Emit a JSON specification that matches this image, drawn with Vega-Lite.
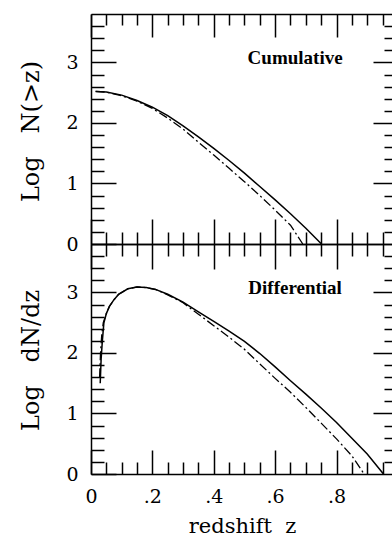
{
  "$schema": "https://vega.github.io/schema/vega-lite/v6.json",
  "padding": {"left": 18, "top": 13, "right": 0, "bottom": 0},
  "background": "white",
  "datasets": {
    "curves": [
      {"panel": "cum", "model": "solid", "z": 0.015, "v": 2.52},
      {"panel": "cum", "model": "solid", "z": 0.05, "v": 2.51},
      {"panel": "cum", "model": "solid", "z": 0.1, "v": 2.46},
      {"panel": "cum", "model": "solid", "z": 0.15, "v": 2.37},
      {"panel": "cum", "model": "solid", "z": 0.2, "v": 2.26},
      {"panel": "cum", "model": "solid", "z": 0.25, "v": 2.12},
      {"panel": "cum", "model": "solid", "z": 0.3, "v": 1.95},
      {"panel": "cum", "model": "solid", "z": 0.35, "v": 1.77},
      {"panel": "cum", "model": "solid", "z": 0.4, "v": 1.58},
      {"panel": "cum", "model": "solid", "z": 0.45, "v": 1.38},
      {"panel": "cum", "model": "solid", "z": 0.5, "v": 1.17},
      {"panel": "cum", "model": "solid", "z": 0.55, "v": 0.95},
      {"panel": "cum", "model": "solid", "z": 0.6, "v": 0.73},
      {"panel": "cum", "model": "solid", "z": 0.65, "v": 0.5},
      {"panel": "cum", "model": "solid", "z": 0.7, "v": 0.26},
      {"panel": "cum", "model": "solid", "z": 0.751, "v": 0.0},
      {"panel": "cum", "model": "dash", "z": 0.015, "v": 2.52},
      {"panel": "cum", "model": "dash", "z": 0.05, "v": 2.51},
      {"panel": "cum", "model": "dash", "z": 0.1, "v": 2.45},
      {"panel": "cum", "model": "dash", "z": 0.15, "v": 2.36},
      {"panel": "cum", "model": "dash", "z": 0.2, "v": 2.24},
      {"panel": "cum", "model": "dash", "z": 0.25, "v": 2.08},
      {"panel": "cum", "model": "dash", "z": 0.3, "v": 1.9},
      {"panel": "cum", "model": "dash", "z": 0.35, "v": 1.68},
      {"panel": "cum", "model": "dash", "z": 0.4, "v": 1.47},
      {"panel": "cum", "model": "dash", "z": 0.45, "v": 1.25},
      {"panel": "cum", "model": "dash", "z": 0.5, "v": 1.03},
      {"panel": "cum", "model": "dash", "z": 0.55, "v": 0.8},
      {"panel": "cum", "model": "dash", "z": 0.6, "v": 0.56},
      {"panel": "cum", "model": "dash", "z": 0.65, "v": 0.31},
      {"panel": "cum", "model": "dash", "z": 0.69, "v": 0.0},
      {"panel": "diff", "model": "solid", "z": 0.03, "v": 1.5},
      {"panel": "diff", "model": "solid", "z": 0.033, "v": 1.9},
      {"panel": "diff", "model": "solid", "z": 0.037, "v": 2.2},
      {"panel": "diff", "model": "solid", "z": 0.042, "v": 2.5},
      {"panel": "diff", "model": "solid", "z": 0.05, "v": 2.65},
      {"panel": "diff", "model": "solid", "z": 0.06, "v": 2.77},
      {"panel": "diff", "model": "solid", "z": 0.075, "v": 2.88},
      {"panel": "diff", "model": "solid", "z": 0.09, "v": 2.97},
      {"panel": "diff", "model": "solid", "z": 0.12, "v": 3.06},
      {"panel": "diff", "model": "solid", "z": 0.15, "v": 3.09},
      {"panel": "diff", "model": "solid", "z": 0.18, "v": 3.08},
      {"panel": "diff", "model": "solid", "z": 0.21, "v": 3.05},
      {"panel": "diff", "model": "solid", "z": 0.25, "v": 2.97},
      {"panel": "diff", "model": "solid", "z": 0.3, "v": 2.84},
      {"panel": "diff", "model": "solid", "z": 0.35, "v": 2.68},
      {"panel": "diff", "model": "solid", "z": 0.4, "v": 2.52},
      {"panel": "diff", "model": "solid", "z": 0.45, "v": 2.36},
      {"panel": "diff", "model": "solid", "z": 0.5, "v": 2.19},
      {"panel": "diff", "model": "solid", "z": 0.55, "v": 1.99},
      {"panel": "diff", "model": "solid", "z": 0.6, "v": 1.77},
      {"panel": "diff", "model": "solid", "z": 0.65, "v": 1.54},
      {"panel": "diff", "model": "solid", "z": 0.7, "v": 1.32},
      {"panel": "diff", "model": "solid", "z": 0.75, "v": 1.09},
      {"panel": "diff", "model": "solid", "z": 0.8, "v": 0.85},
      {"panel": "diff", "model": "solid", "z": 0.85, "v": 0.59},
      {"panel": "diff", "model": "solid", "z": 0.9, "v": 0.33},
      {"panel": "diff", "model": "solid", "z": 0.953, "v": 0.0},
      {"panel": "diff", "model": "dash", "z": 0.028, "v": 1.6},
      {"panel": "diff", "model": "dash", "z": 0.031, "v": 2.0},
      {"panel": "diff", "model": "dash", "z": 0.035, "v": 2.3},
      {"panel": "diff", "model": "dash", "z": 0.04, "v": 2.5},
      {"panel": "diff", "model": "dash", "z": 0.05, "v": 2.65},
      {"panel": "diff", "model": "dash", "z": 0.06, "v": 2.77},
      {"panel": "diff", "model": "dash", "z": 0.075, "v": 2.88},
      {"panel": "diff", "model": "dash", "z": 0.09, "v": 2.97},
      {"panel": "diff", "model": "dash", "z": 0.12, "v": 3.06},
      {"panel": "diff", "model": "dash", "z": 0.15, "v": 3.09},
      {"panel": "diff", "model": "dash", "z": 0.18, "v": 3.08},
      {"panel": "diff", "model": "dash", "z": 0.21, "v": 3.05},
      {"panel": "diff", "model": "dash", "z": 0.25, "v": 2.96},
      {"panel": "diff", "model": "dash", "z": 0.3, "v": 2.83},
      {"panel": "diff", "model": "dash", "z": 0.35, "v": 2.64},
      {"panel": "diff", "model": "dash", "z": 0.4, "v": 2.45},
      {"panel": "diff", "model": "dash", "z": 0.45, "v": 2.26},
      {"panel": "diff", "model": "dash", "z": 0.5, "v": 2.06},
      {"panel": "diff", "model": "dash", "z": 0.55, "v": 1.82},
      {"panel": "diff", "model": "dash", "z": 0.6, "v": 1.58},
      {"panel": "diff", "model": "dash", "z": 0.65, "v": 1.35},
      {"panel": "diff", "model": "dash", "z": 0.7, "v": 1.1},
      {"panel": "diff", "model": "dash", "z": 0.75, "v": 0.84},
      {"panel": "diff", "model": "dash", "z": 0.8, "v": 0.58},
      {"panel": "diff", "model": "dash", "z": 0.85, "v": 0.3},
      {"panel": "diff", "model": "dash", "z": 0.89, "v": 0.0}
    ],
    "notes": [
      {"panel": "cum", "z": 0.665, "v": 2.97, "text": "Cumulative"},
      {"panel": "diff", "z": 0.665, "v": 2.97, "text": "Differential"}
    ]
  },
  "vconcat": [
    {
      "width": 302,
      "height": 230,
      "resolve": {"axis": {"x": "independent", "y": "independent"}},
      "layer": [
        {
          "data": {"name": "curves"},
          "transform": [{"filter": "datum.panel === 'cum' && datum.model === 'solid'"}],
          "mark": {"type": "line", "color": "black", "strokeWidth": 1.5},
          "encoding": {
            "x": {"field": "z", "type": "quantitative", "scale": {"domain": [0, 0.984], "nice": false, "zero": false},
              "axis": {"orient": "bottom", "title": null, "labels": false,
                "values": [0,0.05,0.1,0.15,0.2,0.25,0.3,0.35,0.4,0.45,0.5,0.55,0.6,0.65,0.7,0.75,0.8,0.85,0.9,0.95],
                "tickSize": {"condition": {"test": "abs(datum.value*5 - round(datum.value*5)) < 0.001", "value": -25}, "value": -12}}},
            "y": {"field": "v", "type": "quantitative", "scale": {"domain": [0, 3.8], "nice": false, "zero": false},
              "axis": {"orient": "left", "title": "Log\u00a0\u00a0\u00a0N(>z)", "titleX": -48, "titleY": 117, "titleBaseline": "bottom", "titleAngle": -90,
                "values": [0,0.2,0.4,0.6,0.8,1,1.2,1.4,1.6,1.8,2,2.2,2.4,2.6,2.8,3,3.2,3.4,3.6],
                "labelExpr": "datum.value % 1 === 0 ? format(datum.value, 'd') : ''",
                "labelPadding": 38,
                "tickSize": {"condition": {"test": "datum.value % 1 === 0", "value": -25}, "value": -13}}}
          }
        },
        {
          "data": {"name": "curves"},
          "transform": [{"filter": "datum.panel === 'cum' && datum.model === 'dash'"}],
          "mark": {"type": "line", "color": "black", "strokeWidth": 1.3, "strokeDash": [9, 3, 2, 3]},
          "encoding": {
            "x": {"field": "z", "type": "quantitative", "scale": {"domain": [0, 0.984], "nice": false, "zero": false},
              "axis": {"orient": "top", "title": null, "labels": false,
                "values": [0,0.05,0.1,0.15,0.2,0.25,0.3,0.35,0.4,0.45,0.5,0.55,0.6,0.65,0.7,0.75,0.8,0.85,0.9,0.95],
                "tickSize": {"condition": {"test": "abs(datum.value*5 - round(datum.value*5)) < 0.001", "value": -23}, "value": -11}}},
            "y": {"field": "v", "type": "quantitative", "scale": {"domain": [0, 3.8], "nice": false, "zero": false},
              "axis": {"orient": "right", "title": null, "labels": false, "domain": false,
                "values": [0.2,0.4,0.6,0.8,1,1.2,1.4,1.6,1.8,2,2.2,2.4,2.6,2.8,3,3.2,3.4,3.6],
                "tickSize": {"condition": {"test": "datum.value % 1 === 0", "value": -20}, "value": -9}}}
          }
        },
        {
          "data": {"name": "notes"},
          "transform": [{"filter": "datum.panel === 'cum'"}],
          "mark": {"type": "text", "font": "Liberation Serif", "fontWeight": "bold", "fontSize": 19, "align": "center", "baseline": "alphabetic", "color": "black"},
          "encoding": {
            "x": {"field": "z", "type": "quantitative", "scale": {"domain": [0, 0.984], "nice": false, "zero": false}, "axis": null},
            "y": {"field": "v", "type": "quantitative", "scale": {"domain": [0, 3.8], "nice": false, "zero": false}, "axis": null},
            "text": {"field": "text"}
          }
        }
      ]
    },
    {
      "width": 302,
      "height": 230,
      "resolve": {"axis": {"x": "independent", "y": "independent"}},
      "layer": [
        {
          "data": {"name": "curves"},
          "transform": [{"filter": "datum.panel === 'diff' && datum.model === 'solid'"}],
          "mark": {"type": "line", "color": "black", "strokeWidth": 1.5},
          "encoding": {
            "x": {"field": "z", "type": "quantitative", "scale": {"domain": [0, 0.984], "nice": false, "zero": false},
              "axis": {"orient": "bottom", "title": "redshift\u00a0\u00a0z", "titleFontSize": 21, "titlePadding": -3,
                "values": [0,0.05,0.1,0.15,0.2,0.25,0.3,0.35,0.4,0.45,0.5,0.55,0.6,0.65,0.7,0.75,0.8,0.85,0.9,0.95],
                "labelExpr": "abs(datum.value*5 - round(datum.value*5)) < 0.001 ? (datum.value == 0 ? '0' : replace(format(datum.value, '.1f'), '0.', '.')) : ''",
                "labelPadding": 37,
                "tickSize": {"condition": {"test": "abs(datum.value*5 - round(datum.value*5)) < 0.001", "value": -24}, "value": -12}}},
            "y": {"field": "v", "type": "quantitative", "scale": {"domain": [0, 3.8], "nice": false, "zero": false},
              "axis": {"orient": "left", "title": "Log\u00a0\u00a0\u00a0dN/dz", "titleX": -48, "titleY": 116, "titleBaseline": "bottom", "titleAngle": -90,
                "values": [0,0.2,0.4,0.6,0.8,1,1.2,1.4,1.6,1.8,2,2.2,2.4,2.6,2.8,3,3.2,3.4,3.6],
                "labelExpr": "datum.value % 1 === 0 ? format(datum.value, 'd') : ''",
                "labelPadding": 38,
                "tickSize": {"condition": {"test": "datum.value % 1 === 0", "value": -25}, "value": -13}}}
          }
        },
        {
          "data": {"name": "curves"},
          "transform": [{"filter": "datum.panel === 'diff' && datum.model === 'dash'"}],
          "mark": {"type": "line", "color": "black", "strokeWidth": 1.3, "strokeDash": [9, 3, 2, 3]},
          "encoding": {
            "x": {"field": "z", "type": "quantitative", "scale": {"domain": [0, 0.984], "nice": false, "zero": false},
              "axis": {"orient": "top", "title": null, "labels": false,
                "values": [0,0.05,0.1,0.15,0.2,0.25,0.3,0.35,0.4,0.45,0.5,0.55,0.6,0.65,0.7,0.75,0.8,0.85,0.9,0.95],
                "tickSize": {"condition": {"test": "abs(datum.value*5 - round(datum.value*5)) < 0.001", "value": -25}, "value": -12}}},
            "y": {"field": "v", "type": "quantitative", "scale": {"domain": [0, 3.8], "nice": false, "zero": false},
              "axis": {"orient": "right", "title": null, "labels": false, "domain": false,
                "values": [0.2,0.4,0.6,0.8,1,1.2,1.4,1.6,1.8,2,2.2,2.4,2.6,2.8,3,3.2,3.4,3.6],
                "tickSize": {"condition": {"test": "datum.value % 1 === 0", "value": -20}, "value": -9}}}
          }
        },
        {
          "data": {"name": "notes"},
          "transform": [{"filter": "datum.panel === 'diff'"}],
          "mark": {"type": "text", "font": "Liberation Serif", "fontWeight": "bold", "fontSize": 19, "align": "center", "baseline": "alphabetic", "color": "black"},
          "encoding": {
            "x": {"field": "z", "type": "quantitative", "scale": {"domain": [0, 0.984], "nice": false, "zero": false}, "axis": null},
            "y": {"field": "v", "type": "quantitative", "scale": {"domain": [0, 3.8], "nice": false, "zero": false}, "axis": null},
            "text": {"field": "text"}
          }
        }
      ]
    }
  ],
  "spacing": 0,
  "bounds": "flush",
  "config": {
    "view": {"stroke": null},
    "axis": {
      "grid": false,
      "domainColor": "black", "domainWidth": 1.5,
      "tickColor": "black", "tickWidth": 1.5,
      "labelFont": "DejaVu Serif", "labelFontSize": 19, "labelColor": "black",
      "labelOverlap": false, "labelFlush": false,
      "titleFont": "DejaVu Serif", "titleFontSize": 24, "titleFontWeight": "normal", "titleColor": "black"
    }
  }
}
